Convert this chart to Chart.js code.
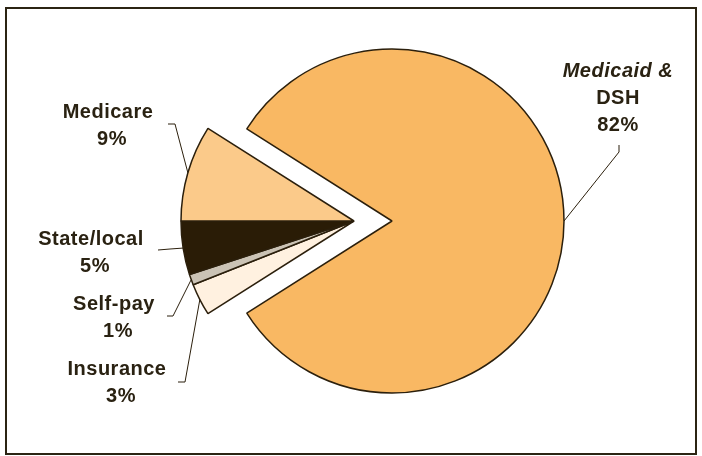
<!DOCTYPE html>
<html>
<head>
<meta charset="utf-8">
<title>Revenue sources</title>
<script src="https://cdn.jsdelivr.net/npm/chart.js@4.4.1/dist/chart.umd.min.js"></script>
<style>
  body { margin: 0; background: #fff; }
  .wrap { position: relative; width: 702px; height: 456px; }
  .wrap canvas { position: absolute; left: 0; top: 0; }
  .frame {
    position: absolute; left: 5px; top: 7px; width: 692px; height: 448px;
    box-sizing: border-box; border: 2px solid #2b2413;
  }
</style>
</head>
<body>
<div class="wrap">
  <div class="frame"></div>
  <canvas id="bigSlice" width="702" height="456"></canvas>
  <canvas id="smallSlices" width="702" height="456"></canvas>
</div>
<script>
// data, clockwise from the lower left
const categories = ['Insurance', 'Self-pay', 'State/local', 'Medicare', 'Medicaid & DSH'];
const shares = [3, 1, 5, 9, 82];
const labelNames = [['Insurance'], ['Self-pay'], ['State/local'], ['Medicare'], ['Medicaid &', 'DSH']];

// styles
const sliceColors = ['#fff1e0', '#cbc3b5', '#2a1c06', '#fbca8a', '#f9b863'];
const edgeColor = '#2b1f0c';
const textColor = '#2a2212';
const explodedIdx = categories.indexOf('Medicaid & DSH');

// rotate so the exploded slice points straight right
const total = shares.reduce((a, b) => a + b, 0);
const before = shares.slice(0, explodedIdx).reduce((a, b) => a + b, 0);
const rotation = 90 - (before + shares[explodedIdx] / 2) / total * 360;

// label layout: text centre x, first baseline, leader line start points
const labelLayout = [
  { x: 117, y: 375, lead: [[178, 382], [185, 382]] },
  { x: 114, y: 310, lead: [[167, 316], [173, 316]] },
  { x: 91, y: 245, lead: [[158, 250], [170, 249]] },
  { x: 108, y: 118, lead: [[168, 124], [175, 124]] },
  { x: 618, y: 77, lead: [[619, 145], [619, 152]], italicFirst: true }
];

function pieConfig(showIdx, padding) {
  return {
    type: 'pie',
    data: {
      labels: categories,
      datasets: [{
        data: shares,
        backgroundColor: sliceColors.map((c, i) => showIdx(i) ? c : 'rgba(0,0,0,0)'),
        borderColor: edgeColor,
        borderWidth: shares.map((v, i) => showIdx(i) ? 1.5 : 0)
      }]
    },
    options: {
      responsive: false,
      animation: false,
      rotation: rotation,
      layout: { padding: padding },
      plugins: { legend: { display: false }, tooltip: { enabled: false } }
    }
  };
}

function edgePoint(arc) {
  const mid = (arc.startAngle + arc.endAngle) / 2;
  return [arc.x + Math.cos(mid) * arc.outerRadius, arc.y + Math.sin(mid) * arc.outerRadius];
}

// the exploded slice gets its own chart, shifted right of the others
const bigChart = new Chart(document.getElementById('bigSlice'),
  pieConfig(i => i === explodedIdx, { left: 82, right: 0, top: 48.25, bottom: 62.25 }));

const labelsPlugin = {
  id: 'sliceLabels',
  afterDraw(chart) {
    const ctx = chart.ctx;
    const smallArcs = chart.getDatasetMeta(0).data;
    const bigArcs = bigChart.getDatasetMeta(0).data;
    ctx.save();
    labelLayout.forEach((lab, i) => {
      const arc = i === explodedIdx ? bigArcs[i] : smallArcs[i];
      const end = edgePoint(arc);
      // leader line
      ctx.strokeStyle = edgeColor;
      ctx.lineWidth = 1;
      ctx.beginPath();
      ctx.moveTo(lab.lead[0][0], lab.lead[0][1]);
      ctx.lineTo(lab.lead[1][0], lab.lead[1][1]);
      ctx.lineTo(end[0], end[1]);
      ctx.stroke();
      // text
      const lines = labelNames[i].concat([shares[i] + '%']);
      ctx.fillStyle = textColor;
      ctx.textAlign = 'center';
      ctx.textBaseline = 'alphabetic';
      ctx.letterSpacing = '0.5px';
      lines.forEach((t, k) => {
        const italic = lab.italicFirst && k === 0 ? 'italic ' : '';
        ctx.font = italic + 'bold 20px "Liberation Sans", Arial, sans-serif';
        const dx = k === lines.length - 1 && lines.length === 2 ? 4 : 0;
        ctx.fillText(t, lab.x + dx, lab.y + k * 27);
      });
    });
    ctx.restore();
  }
};

const smallCfg = pieConfig(i => i !== explodedIdx, { left: 6, right: 0, top: 47.25, bottom: 61.25 });
smallCfg.plugins = [labelsPlugin];
new Chart(document.getElementById('smallSlices'), smallCfg);
</script>
</body>
</html>
